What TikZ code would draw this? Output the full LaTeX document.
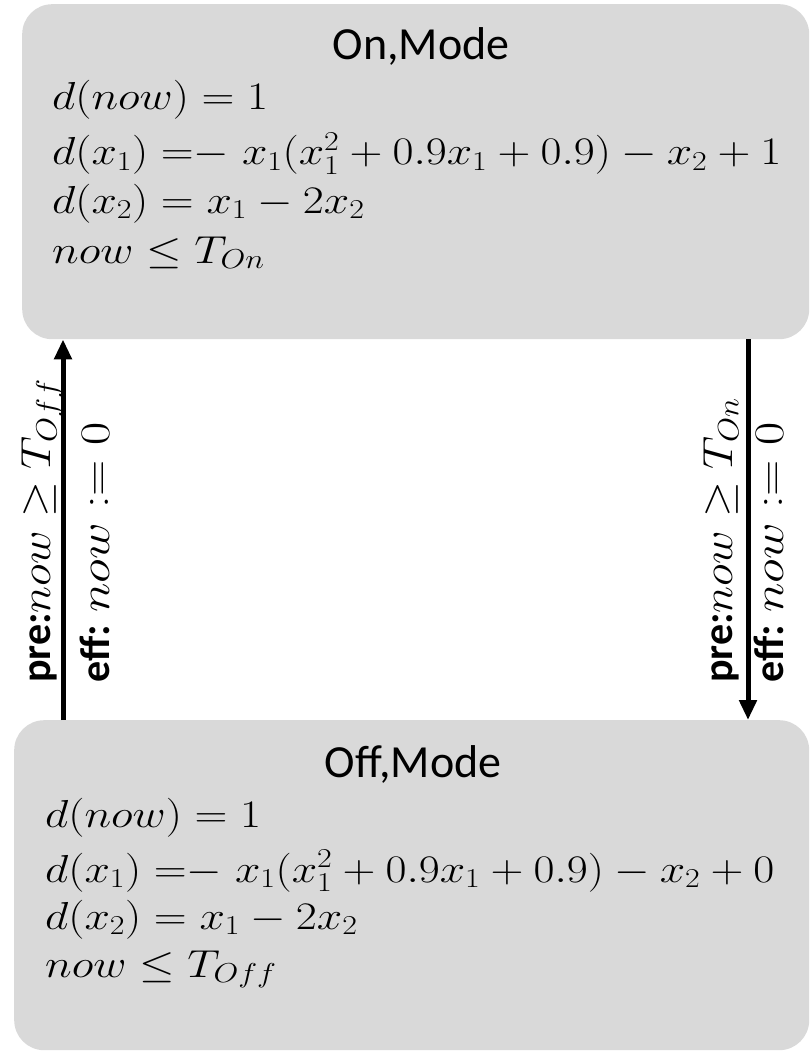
\RequirePackage{fix-cm}
\documentclass[tikz,border=0pt]{standalone}
\usepackage[no-math]{fontspec}
\setmainfont{Carlito}
\usetikzlibrary{arrows.meta}
\definecolor{boxgray}{RGB}{217,217,217}
\newcommand{\wmath}[1]{\scalebox{1.17}[1]{$#1$}}
\newcommand{\pmath}[1]{\scalebox{1.1}[1]{$#1$}}
\newcommand{\emath}[1]{\scalebox{1.2}[1]{$#1$}}
\tikzset{
  modebox/.style={fill=boxgray, draw=none, rounded corners=30pt, inner sep=0pt, anchor=north west},
  titletext/.style={font=\fontsize{46}{50}\selectfont, anchor=base, inner sep=0pt},
  eqtext/.style={font=\fontsize{39}{41}\selectfont, anchor=base west, inner sep=0pt},
  lbltext/.style={font=\fontsize{42}{46}\selectfont, rotate=90, anchor=west, inner sep=0pt},
  arr/.style={line width=5pt, -{Triangle[width=17pt,length=20pt]}}
}
\begin{document}
\begin{tikzpicture}[x=1pt,y=-1pt]
\useasboundingbox (0,0) rectangle (810,1051);
% boxes
\node[modebox, minimum width=787pt, minimum height=335pt] (on) at (22,4) {};
\node[modebox, minimum width=795pt, minimum height=330pt] (off) at (14,720) {};
% top box text
\node[titletext] (ontitle) at (421,60) {On,Mode};
\node[eqtext] (on1) at (52,110) {\wmath{d(now)=1}};
\node[eqtext] (on2) at (52,165) {\wmath{d(x_1)\;{=}{-}\;x_1(x_1^2+0.9x_1+0.9)-x_2+1}};
\node[eqtext] (on3) at (52,213) {\wmath{d(x_2)=x_1-2x_2}};
\node[eqtext] (on4) at (52,263) {\wmath{now\le T_{On}}};
% bottom box text
\node[titletext] (offtitle) at (413,777) {Off,Mode};
\node[eqtext] (off1) at (45,827) {\wmath{d(now)=1}};
\node[eqtext] (off2) at (45,882) {\wmath{d(x_1)\;{=}{-}\;x_1(x_1^2+0.9x_1+0.9)-x_2+0}};
\node[eqtext] (off3) at (45,929) {\wmath{d(x_2)=x_1-2x_2}};
\node[eqtext] (off4) at (45,977) {\wmath{now\le T_{Off}}};
% connectors
\coordinate (lx) at (63,0);
\coordinate (rx) at (748,0);
\draw[arr] (off.north -| lx) -- (on.south -| lx);
\draw[arr] (on.south -| rx) -- (off.north -| rx);
% labels
\node[lbltext] (lpre) at (42,683) {\textbf{pre:}\pmath{now\ge T_{Off}}};
\node[lbltext] (leff) at (95,683) {\textbf{eff:} \emath{now \mathrel{\mathop:}= 0}};
\node[lbltext] (rpre) at (721,683) {\textbf{pre:}\pmath{now\ge T_{On}}};
\node[lbltext] (reff) at (769,683) {\textbf{eff:} \emath{now \mathrel{\mathop:}= 0}};
\end{tikzpicture}
\end{document}
